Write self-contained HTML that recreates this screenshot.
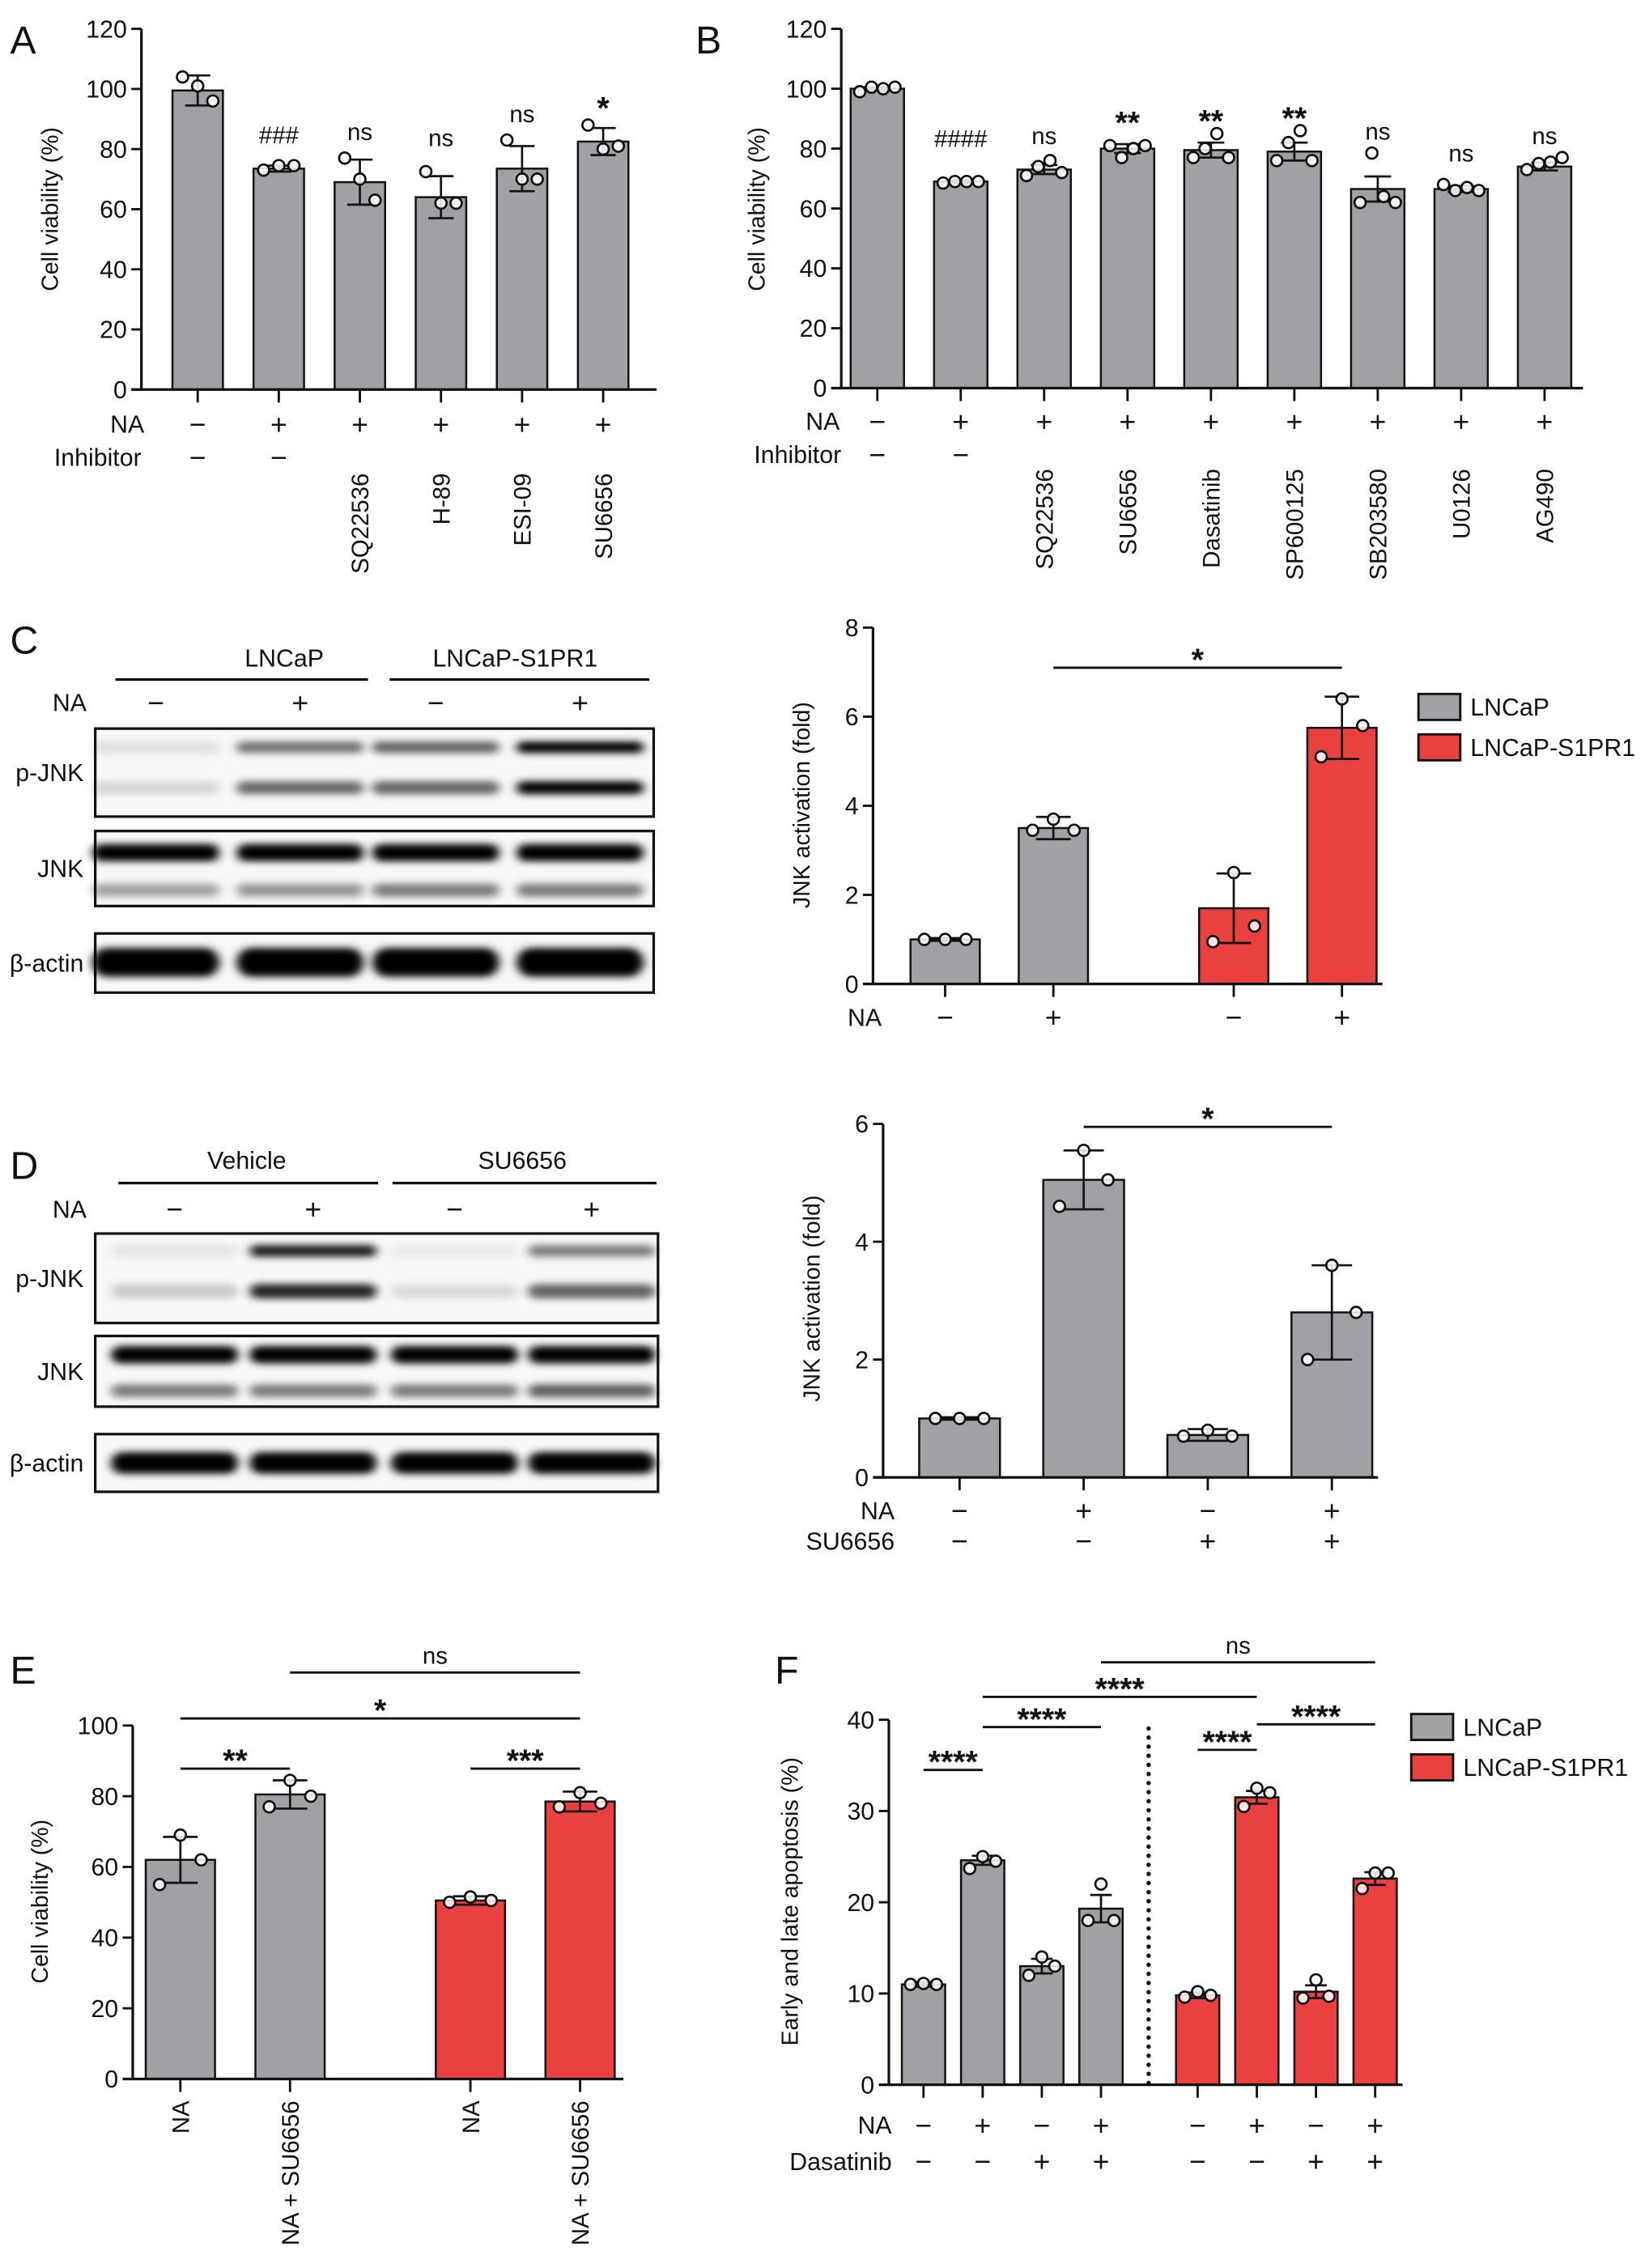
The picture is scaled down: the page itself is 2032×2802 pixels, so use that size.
<!DOCTYPE html>
<html><head><meta charset="utf-8"><style>
html,body{margin:0;padding:0;background:#fff}
svg{display:block}
text{font-family:"Liberation Sans",Arial,sans-serif;fill:#111}
</style></head><body>
<svg id="fig" xmlns="http://www.w3.org/2000/svg" width="2032" height="2802" viewBox="0 0 1140 1572">
<defs><filter id="blur" x="-20%" y="-150%" width="140%" height="400%"><feGaussianBlur stdDeviation="3.4 2.6"/></filter></defs>
</svg>
<script>
// ---------- data ----------
const aCats=["ctrl","NA","SQ22536","H-89","ESI-09","SU6656"];
const aVals=[99.5,73.5,69,64,73.5,82.5];
const aErr=[5,1,7.5,7,7.5,4.5];
const aPts=[[104,101,96],[73,74.5,74.5],[77,70,63],[72.5,62,62],[83,70,70],[88,80,81]];
const aNA=["−","+","+","+","+","+"];
const aInh=["−","−","SQ22536","H-89","ESI-09","SU6656"];
const aSig=["","###","ns","ns","ns","*"];
const aSigY=[0,82,83,81,89,91];
const aTicks=[0,20,40,60,80,100,120];

const bCats=["ctrl","NA","SQ22536","SU6656","Dasatinib","SP600125","SB203580","U0126","AG490"];
const bVals=[100,69,73,80,79.5,79,66.5,66.5,74];
const bErr=[0.5,0.5,1.5,1.5,2.5,3,4.2,1,1.3];
const bPts=[[99,100.5,100,100.5],[68.5,69,69,69],[71,74,76,72],[81,77,80,81],[77,80,85,77],[76,82,86,76],[62,78.5,64,62],[68,66,67,66],[73,75,75.5,77]];
const bNA=["−","+","+","+","+","+","+","+","+"];
const bInh=["−","−","SQ22536","SU6656","Dasatinib","SP600125","SB203580","U0126","AG490"];
const bSig=["","####","ns","**","**","**","ns","ns","ns"];
const bSigY=[0,80.5,81.5,86,86.5,87.5,83,75.7,81.5];
const bTicks=[0,20,40,60,80,100,120];

const cVals=[1,3.5,1.7,5.75];
const cErr=[0.03,0.25,0.78,0.7];
const cPts=[[1,1,1],[3.45,3.7,3.45],[0.95,2.5,1.3],[5.1,6.4,5.8]];
const cNA=["−","+","−","+"];
const cTicks=[0,2,4,6,8];
const cBrackets=[[1,3,7.1,"*"]];

const dVals=[1,5.05,0.72,2.8];
const dErr=[0.02,0.5,0.1,0.8];
const dPts=[[1,1,1],[4.6,5.55,5.05],[0.7,0.8,0.7],[2.0,3.6,2.8]];
const dNA=["−","+","−","+"];
const dSU=["−","−","+","+"];
const dTicks=[0,2,4,6];
const dBrackets=[[1,3,5.95,"*"]];

const eVals=[62,80.5,50.5,78.5];
const eErr=[6.5,4,1.2,2.8];
const ePts=[[55,69,62],[77,84.5,80],[50,51.5,50.5],[77,81,78]];
const eLabels=["NA","NA + SU6656","NA","NA + SU6656"];
const eTicks=[0,20,40,60,80,100];
const eBrackets=[[0,1,87.8,"**"],[2,3,87.8,"***"],[0,3,102,"*"],[1,3,115,"ns"]];

const fVals=[11,24.6,13,19.3,9.8,31.5,10.2,22.6];
const fErr=[0.25,0.5,0.8,1.5,0.3,0.7,0.7,0.7];
const fPts=[[11,11.1,11],[23.7,25,24.5],[12,14,13],[18,22,18],[9.6,10.2,9.8],[30.5,32.5,32],[9.5,11.5,9.7],[21.5,23.2,23.2]];
const fNA=["−","+","−","+","−","+","−","+"];
const fDas=["−","−","+","+","−","−","+","+"];
const fTicks=[0,10,20,30,40];
const fBrackets=[[0,1,34.5,"****"],[1,3,39.2,"****"],[1,5,42.5,"****"],[3,7,46.3,"ns"],[4,5,36.7,"****"],[5,7,39.5,"****"]];

const cBlotPU=[0.1,0.55,0.6,1.0];
const cBlotPL=[0.14,0.58,0.6,1.0];
const cBlotJU=[1,1,1,1];
const cBlotJL=[0.35,0.4,0.5,0.5];
const cBlotA=[1,1,1,1];
const dBlotPU=[0.08,0.9,0.06,0.5];
const dBlotPL=[0.18,0.85,0.12,0.6];
const dBlotJU=[1,1,1,1];
const dBlotJL=[0.5,0.5,0.5,0.62];
const dBlotA=[1,1,1,1];

// ---------- helpers ----------
const NS="http://www.w3.org/2000/svg";
const svg=document.getElementById("fig");
const GRAY="#a0a0a5", RED="#e8413f";
function mk(tag,attrs,parent){const e=document.createElementNS(NS,tag);for(const k in attrs)e.setAttribute(k,attrs[k]);parent.appendChild(e);return e;}
function tx(str,attrs,parent){const e=mk("text",attrs,parent);e.textContent=str;return e;}
function group(name){const g=mk("g",{},svg);


return g;}

function chart(g,cfg,vals,errs,pts,colors){
  const y=v=>cfg.yb-v/cfg.vmax*(cfg.yb-cfg.yt);
  const cx=cfg.center;
  vals.forEach((v,i)=>{
    const r=mk("rect",{x:cx(i)-cfg.bw/2,y:y(v),width:cfg.bw,height:cfg.yb-y(v),fill:colors[i],stroke:"#111","stroke-width":1.4},g);
    
    
  });
  vals.forEach((v,i)=>{
    const cw=cfg.bw*0.25;
    const e=mk("path",{d:`M${cx(i)},${y(v-errs[i])}V${y(v+errs[i])}M${cx(i)-cw},${y(v+errs[i])}H${cx(i)+cw}M${cx(i)-cw},${y(v-errs[i])}H${cx(i)+cw}`,stroke:"#111","stroke-width":1.5,fill:"none"},g);
    
    
  });
  pts.forEach((arr,i)=>{
    const n=arr.length;
    arr.forEach((p,j)=>{
      const off=n===4?(j-1.5)*cfg.bw*0.22:(j-1)*cfg.bw*0.3;
      const c=mk("circle",{cx:cx(i)+off,cy:y(p),r:3.9,fill:"#fff","fill-opacity":0.85,stroke:"#111","stroke-width":1.5},g);
      
      
    });
  });
  const ya=mk("line",{x1:cfg.ax,y1:cfg.yt,x2:cfg.ax,y2:cfg.yb,stroke:"#111","stroke-width":1.8},g);
  
  
  cfg.ticks.forEach(t=>{
    const tk=mk("line",{x1:cfg.ax-7,y1:y(t),x2:cfg.ax,y2:y(t),stroke:"#111","stroke-width":1.6},g);
    
    
    const tl=tx(String(t),{x:cfg.ax-10,y:y(t)+6,"text-anchor":"end","font-size":17},g);
    
    
  });
  const xa=mk("line",{x1:cfg.ax-7,y1:cfg.yb,x2:cfg.xEnd,y2:cfg.yb,stroke:"#111","stroke-width":1.8},g);
  
  
  vals.forEach((v,i)=>{
    const tk=mk("line",{x1:cx(i),y1:cfg.yb,x2:cx(i),y2:cfg.yb+9,stroke:"#111","stroke-width":1.6},g);
    
    
  });
  const tt=tx(cfg.title,{x:0,y:0,"text-anchor":"middle","font-size":16,transform:`translate(${cfg.titleX},${cfg.titleY}) rotate(-90)`},g);
  
  
  return y;
}
function row(g,label,lx,ly,items,cx,name){
  const l=tx(label,{x:lx,y:ly+6,"text-anchor":"end","font-size":17},g);
  
  
  items.forEach((s,i)=>{
    const t=tx(s,{x:cx(i),y:ly+7,"text-anchor":"middle","font-size":20},g);
    
    
  });
}
function rotLabels(g,labels,cx,top,skip){
  labels.forEach((s,i)=>{
    if(i<skip)return;
    const t=tx(s,{x:0,y:0,"text-anchor":"end","font-size":16.5,transform:`translate(${cx(i)+6},${top}) rotate(-90)`},g);
    
    
  });
}
function brackets(g,list,cx,y){
  list.forEach(b=>{
    const l=mk("line",{x1:cx(b[0]),y1:y(b[2]),x2:cx(b[1]),y2:y(b[2]),stroke:"#111","stroke-width":1.6},g);
    
    
    const ns=b[3]==="ns";
    const t=tx(b[3],{x:(cx(b[0])+cx(b[1]))/2,y:y(b[2])+(ns?-6:2),"text-anchor":"middle","font-size":ns?16.5:22,"font-weight":ns?"normal":"bold"},g);
    
    
  });
}
function sigs(g,labels,ys,cx,y){
  labels.forEach((s,i)=>{
    if(!s)return;
    const star=s.indexOf("*")>=0;
    const t=tx(s,{x:cx(i),y:y(ys[i])+(star?2:0),"text-anchor":"middle","font-size":star?22:16.5,"font-weight":star?"bold":"normal"},g);
    
    
  });
}
function letter(ch,x,y){
  const t=tx(ch,{x:x,y:y,"font-size":27},svg);
  
  
}
function legend(g,x,y){
  [["LNCaP",GRAY],["LNCaP-S1PR1",RED]].forEach((it,i)=>{
    const r=mk("rect",{x:x,y:y+i*28,width:29,height:18,fill:it[1],stroke:"#111","stroke-width":1.6},g);
    
    
    const t=tx(it[0],{x:x+36,y:y+i*28+15,"font-size":17},g);
    
    
  });
}
function blot(g,lanes,labels,boxes){
  boxes.forEach(bx=>{
    const r=mk("rect",{x:bx.x,y:bx.y,width:bx.w,height:bx.h,fill:"#f8f8f8",stroke:"#111","stroke-width":1.8},g);
    
    
    bx.bands.forEach(bd=>{
      bd.vals.forEach((v,i)=>{
        const b=mk("rect",{x:lanes[i]-44,y:bd.y-bd.h/2,width:88,height:bd.h,rx:bd.h/2,fill:"#000","fill-opacity":v,filter:"url(#blur)"},g);
        
        
      });
    });
    const l=tx(bx.name,{x:58,y:bx.y+bx.h/2+6,"text-anchor":"end","font-size":17},g);
    
    
  });
}

// ---------- Panel A ----------
letter("A",7,37);
{const g=group("panel-a-chart");
const cx=i=>137+i*56.2;
const y=chart(g,{ax:98,yb:270,yt:20,vmax:120,ticks:aTicks,center:cx,bw:35,xEnd:455,title:"Cell viability (%)",titleX:40,titleY:145},aVals,aErr,aPts,aVals.map(()=>GRAY));
sigs(g,aSig,aSigY,cx,y);
row(g,"NA",100,294,aNA,cx,"na");
row(g,"Inhibitor",98,317,aInh.map((s,i)=>i<2?s:""),cx,"inhibitor");
rotLabels(g,aInh,cx,328,2);}

// ---------- Panel B ----------
letter("B",482,37);
{const g=group("panel-b-chart");
const cx=i=>608+i*57.8;
const y=chart(g,{ax:583,yb:269,yt:20,vmax:120,ticks:bTicks,center:cx,bw:37,xEnd:1097,title:"Cell viability (%)",titleX:530,titleY:145},bVals,bErr,bPts,bVals.map(()=>GRAY));
sigs(g,bSig,bSigY,cx,y);
row(g,"NA",582,292,bNA,cx,"na");
row(g,"Inhibitor",583,315,bInh.map((s,i)=>i<2?s:""),cx,"inhibitor");
rotLabels(g,bInh,cx,325,2);}

// ---------- Panel C ----------
letter("C",7,453);
{const g=group("panel-c-blot");
const lanes=[108,208,302,402];
const h1=tx("LNCaP",{x:197,y:462,"text-anchor":"middle","font-size":17},g);


const h2=tx("LNCaP-S1PR1",{x:357,y:462,"text-anchor":"middle","font-size":17},g);


const ln=mk("path",{d:"M80,471H255M270,471H450",stroke:"#111","stroke-width":1.8},g);


row(g,"NA",60,487,cNA,i=>lanes[i],"na");
blot(g,lanes,null,[
 {name:"p-JNK",x:66,y:505,w:387,h:61,bands:[{y:518,h:8,vals:cBlotPU},{y:546,h:9,vals:cBlotPL}]},
 {name:"JNK",x:66,y:576,w:387,h:52,bands:[{y:591,h:12,vals:cBlotJU},{y:617,h:9,vals:cBlotJL}]},
 {name:"β-actin",x:66,y:647,w:387,h:41,bands:[{y:667,h:20,vals:cBlotA}]}
]);}
{const g=group("panel-c-chart");
const cx=i=>655+i*75+(i>=2?50:0);
const y=chart(g,{ax:605,yb:682,yt:435,vmax:8,ticks:cTicks,center:cx,bw:48,xEnd:958,title:"JNK activation (fold)",titleX:561,titleY:558},cVals,cErr,cPts,[GRAY,GRAY,RED,RED]);
brackets(g,cBrackets,cx,y);
row(g,"NA",611,705,cNA,cx,"na");
legend(g,983,481);}

// ---------- Panel D ----------
letter("D",7,817);
{const g=group("panel-d-blot");
const lanes=[121,217,315,410];
const h1=tx("Vehicle",{x:171,y:810,"text-anchor":"middle","font-size":17},g);


const h2=tx("SU6656",{x:362,y:810,"text-anchor":"middle","font-size":17},g);


const ln=mk("path",{d:"M82,820H262M272,820H455",stroke:"#111","stroke-width":1.8},g);


row(g,"NA",60,838,dNA,i=>lanes[i],"na");
blot(g,lanes,null,[
 {name:"p-JNK",x:66,y:855,w:390,h:62,bands:[{y:867,h:8,vals:dBlotPU},{y:895,h:10,vals:dBlotPL}]},
 {name:"JNK",x:66,y:926,w:390,h:49,bands:[{y:939,h:12,vals:dBlotJU},{y:964,h:9,vals:dBlotJL}]},
 {name:"β-actin",x:66,y:994,w:390,h:40,bands:[{y:1014,h:15,vals:dBlotA}]}
]);}
{const g=group("panel-d-chart");
const cx=i=>665+i*86;
const y=chart(g,{ax:612,yb:1024,yt:779,vmax:6,ticks:dTicks,center:cx,bw:56,xEnd:955,title:"JNK activation (fold)",titleX:568,titleY:900},dVals,dErr,dPts,dVals.map(()=>GRAY));
brackets(g,dBrackets,cx,y);
row(g,"NA",620,1047,dNA,cx,"na");
row(g,"SU6656",620,1068,dSU,cx,"su6656");}

// ---------- Panel E ----------
letter("E",7,1167);
{const g=group("panel-e-chart");
const cx=i=>125+i*76+(i>=2?49:0);
const y=chart(g,{ax:92,yb:1441,yt:1196,vmax:100,ticks:eTicks,center:cx,bw:48,xEnd:432,title:"Cell viability (%)",titleX:33,titleY:1318},eVals,eErr,ePts,[GRAY,GRAY,RED,RED]);
brackets(g,eBrackets,cx,y);
rotLabels(g,eLabels,cx,1456,0);}

// ---------- Panel F ----------
letter("F",537,1167);
{const g=group("panel-f-chart");
const cx=i=>640+i*41+(i>=4?26:0);
const y=chart(g,{ax:616,yb:1445,yt:1192,vmax:40,ticks:fTicks,center:cx,bw:30,xEnd:972,title:"Early and late apoptosis (%)",titleX:553,titleY:1318},fVals,fErr,fPts,fVals.map((v,i)=>i<4?GRAY:RED));
const dl=mk("line",{x1:796,y1:1198,x2:796,y2:1445,stroke:"#111","stroke-width":3,"stroke-dasharray":"0.1 6.2","stroke-linecap":"round"},g);


brackets(g,fBrackets,cx,y);
row(g,"NA",618,1473,fNA,cx,"na");
row(g,"Dasatinib",618,1498,fDas,cx,"dasatinib");
legend(g,978,1188);}
</script>
</body></html>
